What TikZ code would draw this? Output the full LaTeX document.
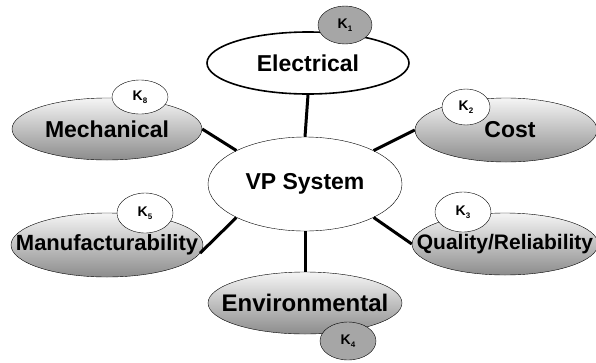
\documentclass[tikz,border=0pt]{standalone}
\usepackage{fontspec}
\setmainfont{Liberation Sans}
\usetikzlibrary{shapes.geometric}

\newcommand{\kw}[1]{K\raisebox{-.4ex}{\fontsize{8}{8}\selectfont #1}}
\newcommand{\ctr}[1]{\makebox[0pt]{#1}}

\begin{document}
\begin{tikzpicture}[x=1pt, y=-1pt,
		area/.style={ellipse, draw, inner sep=0pt, fill=white, font=\bfseries\fontsize{22}{24}\selectfont},
		shaded/.style={area, top color=black!4, bottom color=black!45},
		weight/.style={ellipse, draw, inner sep=0pt, fill=white, minimum width=56, minimum height=38, font=\bfseries\fontsize{14}{14}\selectfont},
		link/.style={line width=3pt},
	]
		\useasboundingbox (0,0) rectangle (596,362);

		\node[area, minimum width=194, minimum height=94, font=\bfseries\fontsize{23}{24}\selectfont] (vp) at (305,184) {\ctr{VP System}};
		\node[area, line width=1.6pt, minimum width=202, minimum height=62, font=\bfseries\fontsize{23}{24}\selectfont] (elec) at (308,63) {\ctr{Electrical}};
		\node[shaded, minimum width=190, minimum height=62, font=\bfseries\fontsize{23}{24}\selectfont] (mech) at (107,129) {\ctr{Mechanical}};
		\node[shaded, minimum width=182, minimum height=64, font=\bfseries\fontsize{23}{24}\selectfont] (cost) at (506,130) {\ctr{\hspace*{8pt}Cost}};
		\node[shaded, minimum width=192, minimum height=64] (mfg) at (107,245) {\ctr{Manufacturability}};
		\node[shaded, minimum width=186, minimum height=62, font=\bfseries\fontsize{21}{24}\selectfont] (qual) at (505,244) {\ctr{Quality/Reliability}};
		\node[shaded, minimum width=194, minimum height=62, font=\bfseries\fontsize{24}{26}\selectfont] (env) at (305,303) {\ctr{Environmental}};

		% spokes
		\draw[link] (elec.south) -- (vp.north);
		\draw[link] (vp.south) -- (env.north);
		\draw[link] (vp.154) -- (mech.east);
		\draw[link] (vp.26) -- (cost.west);
		\draw[link] (vp.206) -- (mfg.-5);
		\draw[link] (vp.334) -- (qual.west);

		% weights
		\node[weight, fill=black!35, minimum width=54] (k1) at (345,25) {\kw{1}};
		\node[weight, minimum height=34] (k8) at (140,97) {\kw{8}};
		\node[weight, minimum width=48, minimum height=36] (k2) at (466,107) {\kw{2}};
		\node[weight, minimum height=40] (k5) at (145,213) {\kw{5}};
		\node[weight, minimum height=40] (k3) at (463,212) {\kw{3}};
		\node[weight, fill=black!35] (k4) at (348,341) {\kw{4}};
	\end{tikzpicture}
\end{document}
